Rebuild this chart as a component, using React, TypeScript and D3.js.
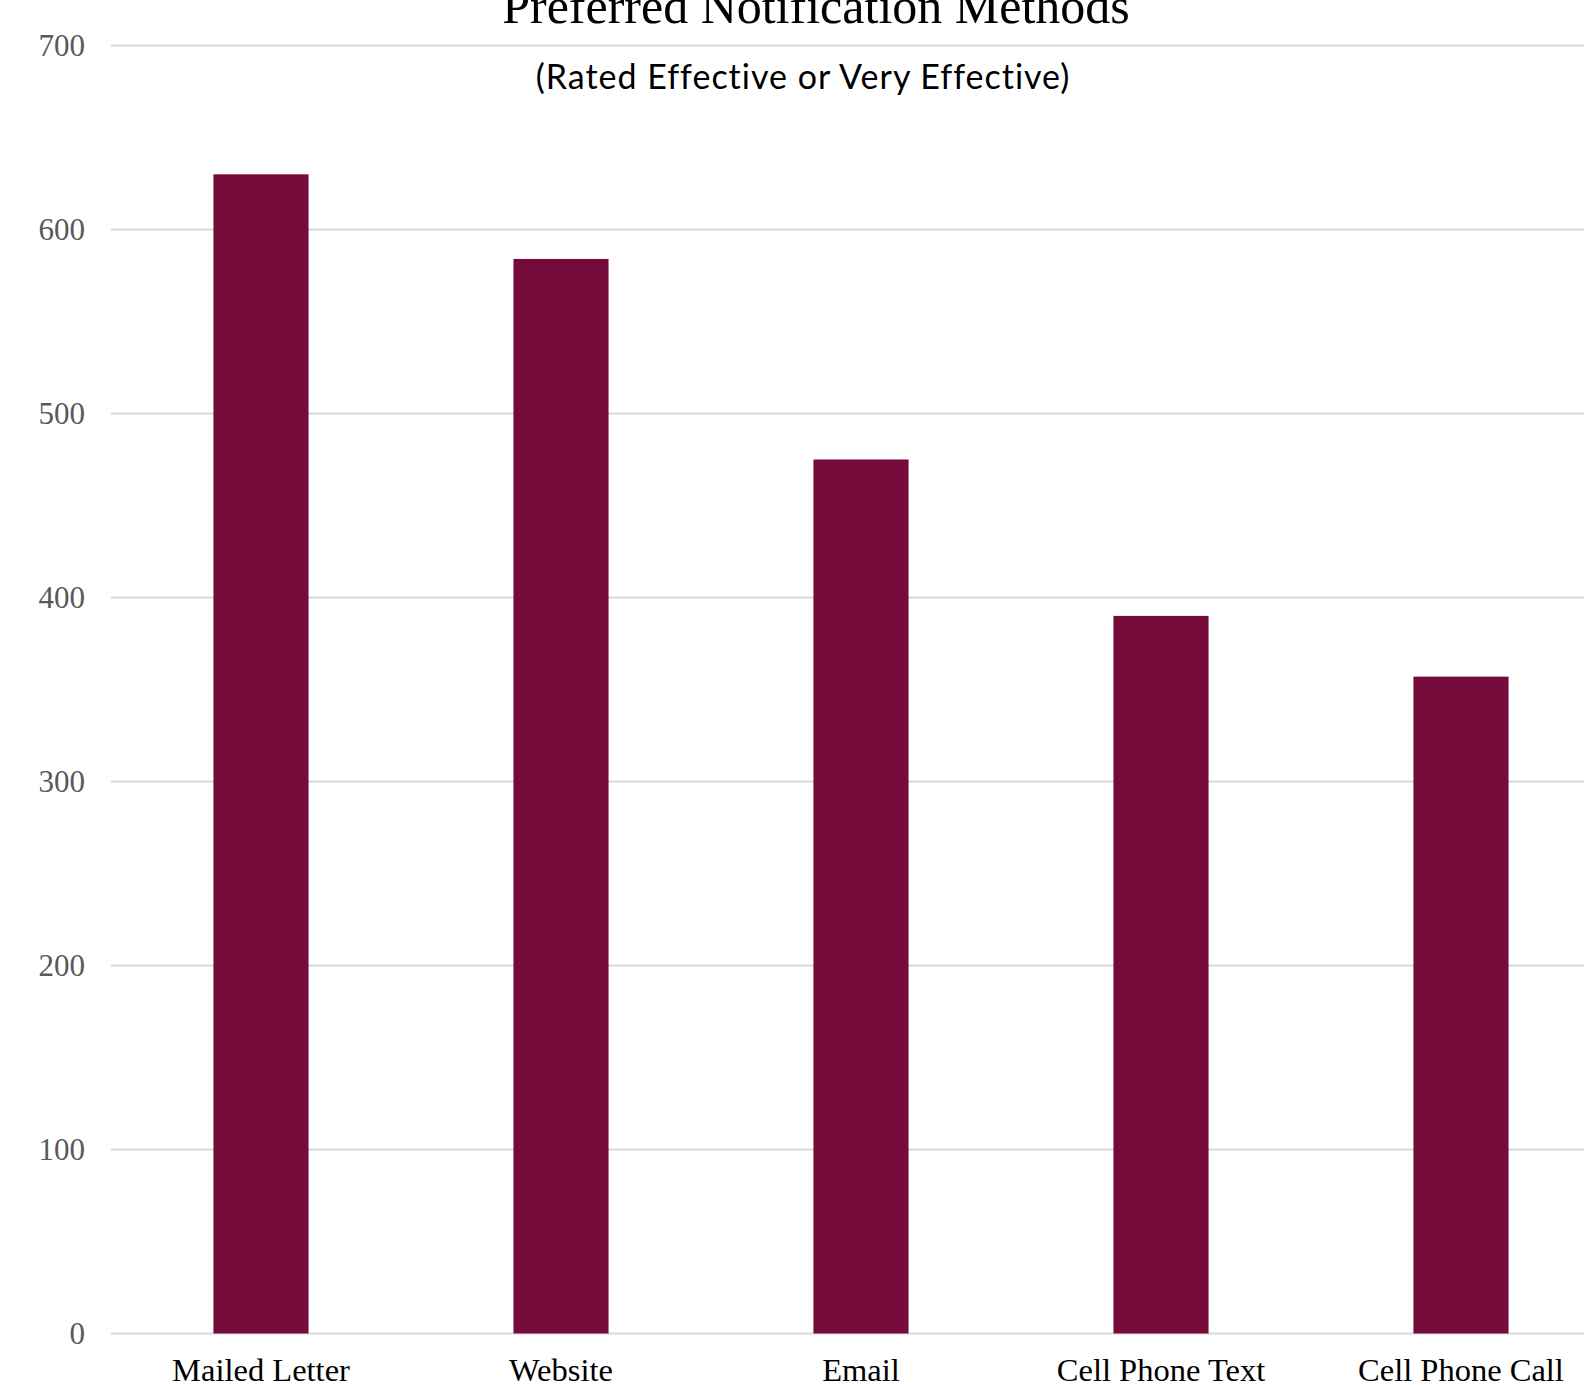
import React from "react";
import * as d3 from "d3";

const categories = ["Mailed Letter", "Website", "Email", "Cell Phone Text", "Cell Phone Call"];
const values = [630, 584, 475, 390, 357];
const yTicks = [0, 100, 200, 300, 400, 500, 600, 700];
const title = "Preferred Notification Methods";
const subtitle = "(Rated Effective or Very Effective)";

export default function App() {
  const W = 1584;
  const H = 1385;
  const left = 111;
  const right = 1611;
  const top = 45.5;
  const bottom = 1333.5;

  const x = d3.scaleBand<string>().domain(categories).range([left, right]).paddingInner(0.683).paddingOuter(0.3415);
  const y = d3.scaleLinear().domain([0, 700]).range([bottom, top]);

  return (
    <svg width={W} height={H} style={{ position: "absolute", left: 0, top: 0, background: "#fff" }}>
      <rect x={0} y={0} width={W} height={H} fill="#fff" />
      {yTicks.map((t) => (
        <g key={t}>
          <line x1={left} x2={W} y1={y(t)} y2={y(t)} stroke="#d9d9d9" strokeWidth={2} />
          <text x={85} y={y(t)} dy="0.35em" textAnchor="end" fontFamily="Liberation Serif, Times New Roman, serif" fontSize={31} fill="#595959">
            {t}
          </text>
        </g>
      ))}
      {categories.map((c, i) => (
        <rect key={c} x={x(c)} y={y(values[i])} width={x.bandwidth()} height={y(0) - y(values[i])} fill="#750b3b" />
      ))}
      {categories.map((c) => (
        <text key={c} x={(x(c) as number) + x.bandwidth() / 2} y={1381} textAnchor="middle" fontFamily="Liberation Serif, Times New Roman, serif" fontSize={32.5} fill="#000">
          {c}
        </text>
      ))}
      <text x={816} y={23} textAnchor="middle" fontFamily="Liberation Serif, Times New Roman, serif" fontSize={50} fill="#000">
        {title}
      </text>
      <text x={803} y={89} textAnchor="middle" fontFamily="Lato, sans-serif" fontSize={34} letterSpacing={1} fill="#000">
        {subtitle}
      </text>
    </svg>
  );
}
